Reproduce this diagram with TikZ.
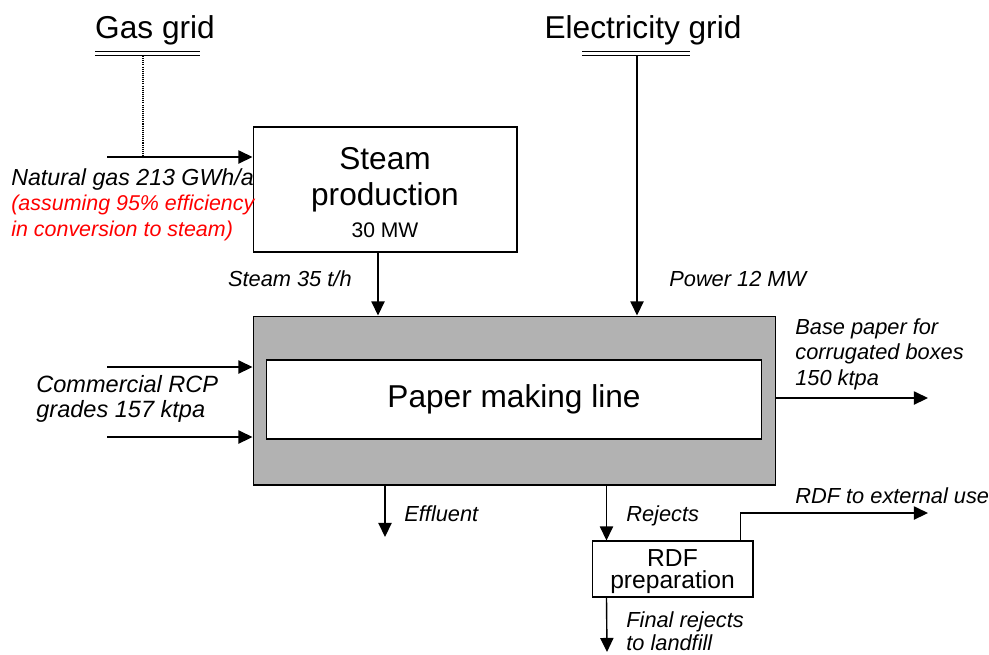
\documentclass[tikz,border=0pt]{standalone}
\usepackage{fontspec}
\setmainfont{Liberation Sans}
\usetikzlibrary{arrows.meta,positioning,calc}

\begin{document}
\begin{tikzpicture}[
  x=0.02cm,y=-0.02cm,
  box/.style={draw,line width=0.6pt,inner sep=0pt},
  txt/.style={anchor=base,align=center,inner sep=0pt},
  lbl/.style={anchor=base west,align=left,inner sep=0pt,font=\fontsize{12.4}{14.5}\selectfont\itshape},
  grid/.style={anchor=base,inner sep=0pt,font=\fontsize{18}{20}\selectfont},
  bar/.style={draw,double,double distance=2pt,line width=0.6pt},
  arr/.style={-{Triangle[length=8pt,width=7.5pt]},line width=0.8pt}
]
  \useasboundingbox (0,0) rectangle (989,654);

  % Boxes: steam top-left, paper making line in the middle, RDF below
  \node[box,minimum width=5.28cm,minimum height=2.5cm] (steam) at (385,189.5) {};
  \node[txt,font=\fontsize{18}{20.5}\selectfont] (steamtxt) at (385,237)
    {Steam\\production\\[-2.5pt]{\fontsize{12}{14}\selectfont 30 MW}};
  \node[box,fill=black!30,minimum width=10.46cm,minimum height=3.38cm] (plant) at (514.5,400.5) {};
  \node[box,fill=white,minimum width=9.92cm,minimum height=1.58cm,font=\fontsize{18}{20}\selectfont]
    (line) at (514,399.5) {Paper making line};
  \node[box,minimum width=3.22cm,minimum height=1.12cm] (rdf) at (672.5,569) {};
  \node[txt,font=\fontsize{14}{12.5}\selectfont] (rdftxt) at (672.5,588.5) {RDF\\preparation};

  % Grids on top
  \node[grid] (gas)  at (155,38) {Gas grid};
  \node[grid] (elec) at (643,38) {Electricity grid};
  \coordinate (gasbar) at (95,53.5);
  \coordinate (elecbar) at (582,53.5);
  \draw[bar] (gasbar) -- ++(105,0);
  \draw[bar] (elecbar) -- ++(108,0);

  % Natural gas: grid -> steam production
  \coordinate (gasin) at (107,157);
  \draw[dash pattern=on 0.6pt off 0.6pt,line width=0.6pt] (143,56) -- (gasin -| 143,0);
  \draw[arr] (gasin) -- (gasin -| steam.west);
  \node[lbl,font=\fontsize{13.2}{14.5}\selectfont\itshape] (natgas) at (11,236) {Natural gas 213 GWh/a\\
    {\fontsize{12.2}{14.5}\selectfont\color{red}(assuming 95\% efficiency}\\
    {\fontsize{12.2}{14.5}\selectfont\color{red}in conversion to steam)}};

  % Power: electricity grid -> paper making line
  \draw[arr] (637,56) -- (637,0 |- plant.north);
  \node[lbl] (power) at (669,286) {Power 12 MW};

  % Steam -> paper making line
  \draw[arr] ([xshift=-0.14cm]steam.south) -- ([xshift=-0.14cm]steam.south |- plant.north);
  \node[lbl,anchor=base east] (steamlbl) at (352,286) {Steam 35 t/h};

  % RCP inputs
  \coordinate (rcpa) at (107,367);
  \coordinate (rcpb) at (107,437);
  \draw[arr] (rcpa) -- (rcpa -| plant.west);
  \draw[arr] (rcpb) -- (rcpb -| plant.west);
  \node[lbl,font=\fontsize{13.4}{14.2}\selectfont\itshape] (rcp) at (36,417) {Commercial RCP\\grades 157 ktpa};

  % Base paper output
  \coordinate (paperout) at (928,398);
  \draw[arr] (paperout -| plant.east) -- (paperout);
  \node[lbl] (paper) at (795,385) {Base paper for\\corrugated boxes\\150 ktpa};

  % Effluent
  \coordinate (effl) at (385,537);
  \draw[arr] (effl |- plant.south) -- (effl);
  \node[lbl] (effllbl) at (404,521) {Effluent};

  % Rejects -> RDF preparation
  \draw[arr] ([xshift=0.3cm]rdf.north west |- plant.south) -- ([xshift=0.3cm]rdf.north west);
  \node[lbl] (rejects) at (626,521) {Rejects};

  % RDF outputs
  \coordinate (rdfout) at (928,513);
  \draw[arr] ([xshift=-0.26cm]rdf.north east) |- (rdfout);
  \node[lbl] (rdfext) at (795,503) {RDF to external use};
  \coordinate (landfill) at (607,652);
  \draw[arr] ([xshift=0.3cm]rdf.south west) -- (landfill);
  \node[lbl,font=\fontsize{12.4}{13}\selectfont\itshape] (final) at (626,650) {Final rejects\\to landfill};
\end{tikzpicture}
\end{document}
